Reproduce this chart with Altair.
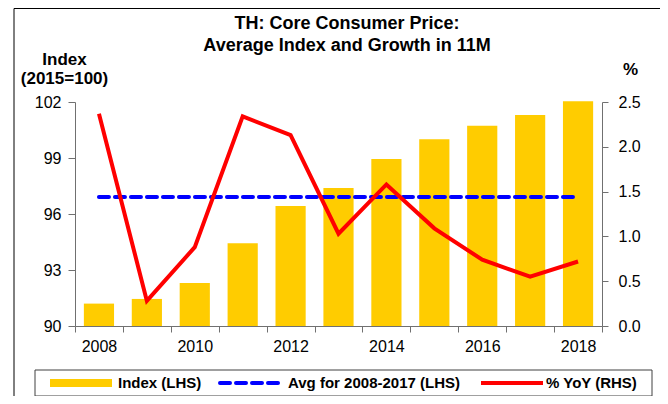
import altair as alt
import pandas as pd

# ---- data ----
years = list(range(2008, 2019))
index_vals = [91.2, 91.45, 92.3, 94.43, 96.43, 97.39, 98.94, 100.0, 100.73, 101.3, 102.04]
yoy_vals = [2.37, 0.28, 0.88, 2.34, 2.13, 1.03, 1.58, 1.09, 0.74, 0.55, 0.72]
avg_years = [2008, 2018]
avg_value = 96.91
left_ticks = [90, 93, 96, 99, 102]
right_ticks = [0.0, 0.5, 1.0, 1.5, 2.0, 2.5]
title_lines = ["TH: Core Consumer Price:", "Average Index and Growth in 11M"]
legend_labels = ["Index (LHS)", "Avg for 2008-2017 (LHS)", "% YoY (RHS)"]

df = pd.DataFrame({"year": years, "index": index_vals, "yoy": yoy_vals})
avg_df = pd.DataFrame({"year": avg_years, "avg": [avg_value, avg_value]})
one = pd.DataFrame({"k": [0]})

FONT = "Liberation Sans"
YELLOW = "#FFCC00"
BLUE = "#0000FF"
RED = "#FF0000"
AXC = "#707070"
TICKFS = 16

x_axis = alt.Axis(
    title=None, labelAngle=0,
    labelExpr="datum.value % 2 == 0 ? datum.label : ''",
    tickBand="extent", tickSize=6, labelPadding=6,
    domainColor=AXC, tickColor=AXC, labelFontSize=TICKFS, labelFont=FONT,
    labelColor="black",
)
xenc = alt.X("year:O", scale=alt.Scale(paddingInner=0, paddingOuter=0), axis=x_axis)

bars = alt.Chart(df).mark_bar(color=YELLOW, width=alt.RelativeBandSize(0.63)).encode(
    x=xenc,
    y=alt.Y("index:Q", scale=alt.Scale(domain=[90, 102], zero=False, nice=False),
            axis=alt.Axis(values=left_ticks, grid=False, tickSize=7, labelPadding=7,
                          domainColor=AXC, tickColor=AXC, labelFontSize=TICKFS,
                          labelFont=FONT, labelColor="black",
                          title=["Index", "(2015=100)"], titleAngle=0,
                          titleX=-11, titleY=-34, titleAlign="center",
                          titleBaseline="bottom", titleFontSize=17,
                          titleFont=FONT, titleFontWeight="bold",
                          titleLineHeight=19, titleColor="black")),
    y2=alt.datum(90),
)

avg_line = alt.Chart(avg_df).mark_line(
    color=BLUE, strokeWidth=4, strokeDash=[10, 6], strokeCap="round"
).encode(
    x=alt.X("year:O"),
    y=alt.Y("avg:Q", scale=alt.Scale(domain=[90, 102], zero=False, nice=False), axis=None),
)

yoy_line = alt.Chart(df).mark_line(color=RED, strokeWidth=4).encode(
    x=alt.X("year:O"),
    y=alt.Y("yoy:Q", scale=alt.Scale(domain=[0, 2.5], nice=False),
            axis=alt.Axis(orient="right", values=right_ticks, format=".1f", grid=False,
                          tickSize=6, labelPadding=10, domainColor=AXC, tickColor=AXC,
                          labelFontSize=TICKFS, labelFont=FONT, labelColor="black",
                          title="%", titleAngle=0, titleX=28, titleY=-28,
                          titleAlign="center", titleBaseline="alphabetic",
                          titleFontSize=17, titleFont=FONT, titleFontWeight="bold",
                          titleColor="black")),
)

# frame around the whole figure
frame = alt.Chart(one).mark_rect(fillOpacity=0, stroke="black", strokeWidth=1).encode(
    x=alt.value(-61), x2=alt.value(586), y=alt.value(-93.5), y2=alt.value(330)
)

# title
t1 = alt.Chart(one).mark_text(font=FONT, fontSize=18, fontWeight="bold", align="center",
                              baseline="alphabetic", color="black").encode(
    x=alt.value(272), y=alt.value(-73), text=alt.value(title_lines[0]))
t2 = alt.Chart(one).mark_text(font=FONT, fontSize=18, fontWeight="bold", align="center",
                              baseline="alphabetic", color="black").encode(
    x=alt.value(272), y=alt.value(-51), text=alt.value(title_lines[1]))

# legend box
LY = 281
lbox = alt.Chart(one).mark_rect(fillOpacity=0, stroke="#404040", strokeWidth=1).encode(
    x=alt.value(-40), x2=alt.value(577), y=alt.value(268), y2=alt.value(294))
sw1 = alt.Chart(one).mark_rule(color=YELLOW, strokeWidth=8).encode(
    x=alt.value(-25), x2=alt.value(37), y=alt.value(LY))
sw2 = alt.Chart(one).mark_rule(color=BLUE, strokeWidth=4, strokeDash=[10, 6], strokeCap="round").encode(
    x=alt.value(145), x2=alt.value(207), y=alt.value(LY))
sw3 = alt.Chart(one).mark_rule(color=RED, strokeWidth=4).encode(
    x=alt.value(406), x2=alt.value(468), y=alt.value(LY))

def ltext(xpos, s):
    return alt.Chart(one).mark_text(font=FONT, fontSize=15, fontWeight="bold", align="left",
                                    baseline="middle", color="black").encode(
        x=alt.value(xpos), y=alt.value(LY), text=alt.value(s))

l1 = ltext(43, legend_labels[0])
l2 = ltext(213, legend_labels[1])
l3 = ltext(471, legend_labels[2])

chart = alt.layer(
    bars, avg_line, yoy_line, frame, t1, t2, lbox, sw1, sw2, sw3, l1, l2, l3
).resolve_scale(y="independent").properties(
    width=527, height=224,
    padding={"left": 67, "top": 94, "right": 58, "bottom": 70},
    autosize=alt.AutoSizeParams(type="none"),
    background="white",
).configure_view(stroke=None)

chart.save("out.html", embed_options={"renderer": "svg", "actions": False})
